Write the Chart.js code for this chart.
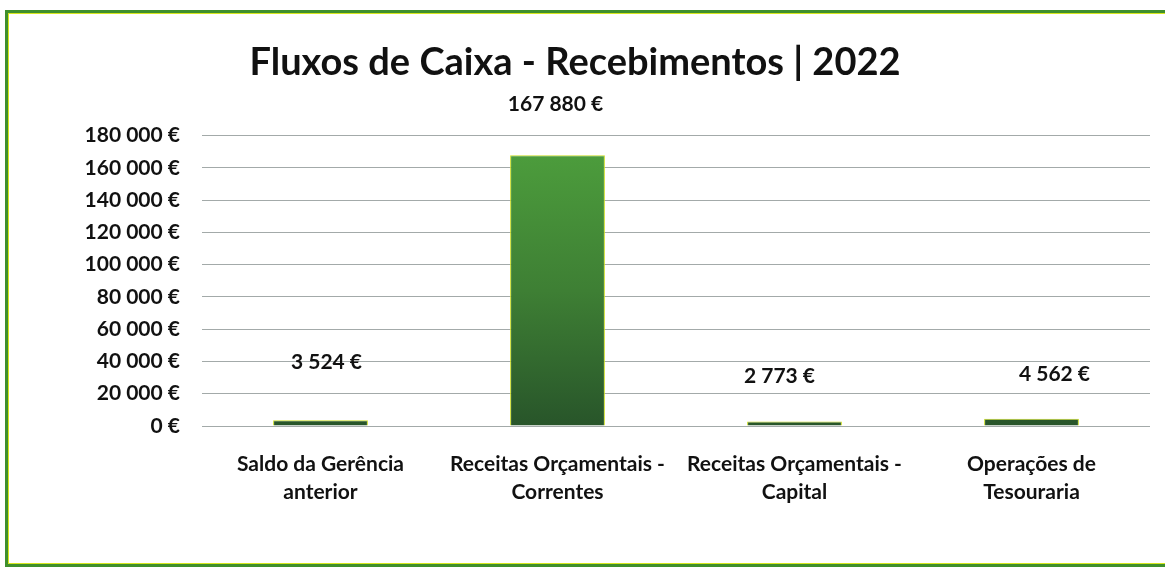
<!DOCTYPE html>
<html>
<head>
<meta charset="utf-8">
<script src="https://cdn.jsdelivr.net/npm/chart.js@4"></script>
<style>
  html, body { margin: 0; padding: 0; background: #fff; }
  #wrap { position: relative; width: 1165px; height: 571px; }
  #frame {
    position: absolute; left: 5px; top: 10px; width: 1160px; height: 557px;
    box-sizing: border-box; border: 3px solid #3f8f2c; border-right: none;
    box-shadow: inset 1px 1px 0 #d6e61e, inset 0 -1px 0 #d6e61e;
    pointer-events: none;
  }
</style>
</head>
<body>
<div id="wrap">
  <canvas id="fluxos" width="1165" height="571"></canvas>
  <div id="frame"></div>
</div>
<script>
const categories = [
  ['Saldo da Gerência', 'anterior'],
  ['Receitas Orçamentais -', 'Correntes'],
  ['Receitas Orçamentais -', 'Capital'],
  ['Operações de', 'Tesouraria']
]
const recebimentos = [3524, 167880, 2773, 4562]
const yTicks = [0, 20000, 40000, 60000, 80000, 100000, 120000, 140000, 160000, 180000]

const FONT = 'Lato, "Open Sans", sans-serif'

function euro( v ) {
  return String(Math.round(v)).replace(/\B(?=(\d{3})+(?!\d))/g, ' ') + ' €'
}

// Excel-ish manually placed value labels: [dx, lift above bar top]
const labelShift = [[6, 58], [-2, 51], [-15, 45], [23, 44]]

const valueLabels = {
  id: 'valueLabels',
  afterDatasetsDraw( chart ) {
    const ctx = chart.ctx
    const meta = chart.getDatasetMeta(0)
    ctx.save()
    ctx.font = 'bold 21px ' + FONT
    ctx.fillStyle = '#111'
    ctx.textAlign = 'center'
    ctx.textBaseline = 'middle'
    meta.data.forEach(( bar, i ) => {
      const s = labelShift[i]
      ctx.fillText(euro(recebimentos[i]), bar.x + s[0], bar.y - s[1])
    })
    ctx.restore()
  }
}

const barFill = ( context ) => {
  const area = context.chart.chartArea
  if ( !area ) return '#3a7a30'
  const g = context.chart.ctx.createLinearGradient(0, area.top + 20, 0, area.bottom)
  g.addColorStop(0, '#4c9c3c')
  g.addColorStop(0.5, '#3e7f34')
  g.addColorStop(1, '#28552a')
  return g
}

new Chart(document.getElementById('fluxos'), {
  type: 'bar',
  data: {
    labels: categories,
    datasets: [{
      data: recebimentos,
      backgroundColor: barFill,
      borderColor: '#c9dc22',
      borderWidth: 1,
      categoryPercentage: 1,
      barPercentage: 0.4
    }]
  },
  options: {
    responsive: false,
    animation: false,
    layout: { padding: { left: 0, right: 15, top: 0, bottom: 0 } },
    plugins: {
      legend: { display: false },
      tooltip: { enabled: false },
      title: {
        display: true,
        text: 'Fluxos de Caixa - Recebimentos | 2022',
        color: '#111',
        font: { family: FONT, size: 38, weight: 'bold' },
        padding: { top: 40, bottom: 50 }
      }
    },
    scales: {
      x: {
        grid: { display: false, drawTicks: false },
        border: { display: false },
        ticks: {
          color: '#111',
          padding: 25,
          font: { family: FONT, size: 21, weight: 'bold', lineHeight: 1.3 },
          maxRotation: 0,
          autoSkip: false
        },
        afterFit( scale ) { scale.height = 145 }
      },
      y: {
        min: 0,
        max: 180000,
        afterBuildTicks( scale ) { scale.ticks = yTicks.map(v => ({ value: v })) },
        grid: { color: '#a3aaa9', lineWidth: 1, drawTicks: false },
        border: { display: false },
        ticks: {
          color: '#111',
          padding: 22,
          font: { family: FONT, size: 21, weight: 'bold' },
          callback: v => euro(v)
        },
        afterFit( scale ) { scale.width = 202 }
      }
    }
  },
  plugins: [valueLabels]
})
</script>
</body>
</html>
